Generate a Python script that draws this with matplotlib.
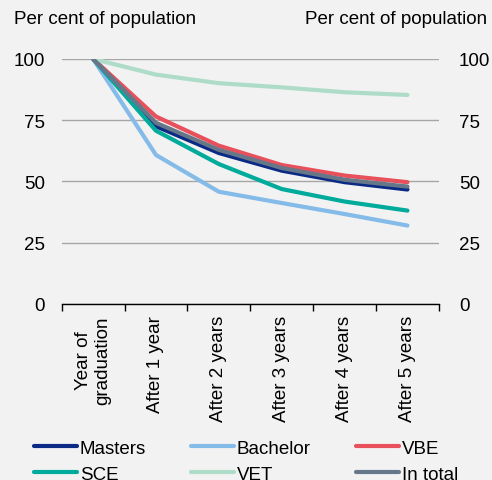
import matplotlib.pyplot as plt
import numpy as np

plt.rcParams['font.family'] = ['Liberation Sans', 'DejaVu Sans']

# Share of graduates still in the population, by years after graduation
categories = ['Year of\ngraduation', 'After 1 year', 'After 2 years',
              'After 3 years', 'After 4 years', 'After 5 years']
masters = [100, 72.5, 61.6, 54.4, 49.7, 46.7]
bachelor = [100, 60.8, 45.8, 41.2, 36.7, 32.0]
vbe = [100, 76.5, 64.6, 56.7, 52.4, 49.7]
sce = [100, 70.7, 57.1, 46.9, 41.8, 38.1]
vet = [100, 93.6, 90.1, 88.4, 86.4, 85.3]
in_total = [100, 73.9, 62.9, 55.5, 50.7, 47.9]
yticks = [0, 25, 50, 75, 100]

series = [('Masters', masters, '#0B2A85'),
          ('Bachelor', bachelor, '#85BBE8'),
          ('VBE', vbe, '#E8505B'),
          ('SCE', sce, '#00AB9B'),
          ('VET', vet, '#AEDCC9'),
          ('In total', in_total, '#667789')]

fs = 13.5
bg = '#F2F2F2'
fig = plt.figure(figsize=(4.92, 4.81), dpi=100, facecolor=bg)
ax = fig.add_axes([0.1254, 0.366, 0.7666, 0.5094])
ax.set_facecolor(bg)

x = np.arange(len(categories))
lines = {}
for name, vals, col in series:
    lines[name], = ax.plot(x, vals, color=col, lw=3, label=name,
                           solid_capstyle='round')

ax.set_xlim(-0.5, len(categories) - 0.5)
ax.set_ylim(0, 100)
ax.set_yticks(yticks)
ax.grid(axis='y', color='#A6A6A6', lw=1)
ax.set_axisbelow(True)
for s in ['top', 'left', 'right']:
    ax.spines[s].set_visible(False)
ax.spines['bottom'].set_color('black')
ax.spines['bottom'].set_linewidth(1)

ax.set_xticks(x)
ax.set_xticklabels(categories, rotation=90, va='top', ha='center',
                   multialignment='center', fontsize=fs)
ax.set_xticks(np.arange(-0.5, len(categories)), minor=True)
ax.tick_params(axis='x', which='major', length=0, pad=8)
ax.tick_params(axis='x', which='minor', length=5, width=1, color='black')
ax.tick_params(axis='y', length=0, labelsize=fs, pad=12)

# right-hand axis repeats the same scale
ax2 = ax.twinx()
ax2.set_ylim(ax.get_ylim())
ax2.set_yticks(yticks)
ax2.tick_params(axis='y', length=0, labelsize=fs, pad=14.5)
for s in ax2.spines.values():
    s.set_visible(False)

fig.text(14 / 492, 1 - 20 / 481, 'Per cent of population', fontsize=fs,
         ha='left', va='center')
fig.text(487 / 492, 1 - 20 / 481, 'Per cent of population', fontsize=fs,
         ha='right', va='center')

# legend is filled row by row in the reference
order = ['Masters', 'SCE', 'Bachelor', 'VET', 'VBE', 'In total']
fig.legend([lines[n] for n in order], order,
           loc='upper left', bbox_to_anchor=(17 / 492, 1 - 424 / 481),
           ncol=3, frameon=False, fontsize=fs, handlelength=2.3,
           handletextpad=0.15, columnspacing=2.4, labelspacing=0.45)

fig.savefig('out.png', dpi=100, facecolor=bg)
